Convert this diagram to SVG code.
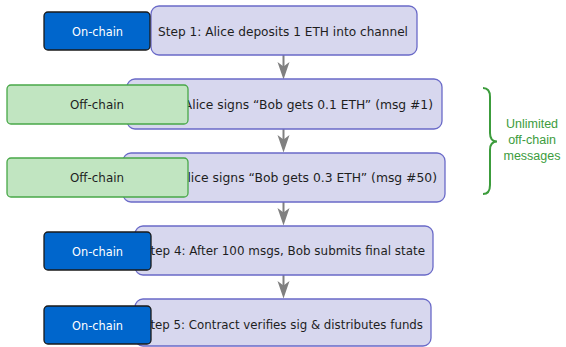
<svg xmlns="http://www.w3.org/2000/svg" width="566" height="347" viewBox="0 0 566 347">
  <style>
    .step { fill: #D7D7EE; stroke: #6A6AC8; stroke-width: 1.3; }
    .on { fill: #0066CC; stroke: #1A1A1A; stroke-width: 1.3; }
    .off { fill: #C1E5C1; stroke: #48A848; stroke-width: 1.3; }
    .t { font-family: "DejaVu Sans", "Liberation Sans", sans-serif; font-size: 13px; text-anchor: middle; }
    .st { fill: #1E1E1E; }
    .wt { fill: #FFFFFF; }
    .gt { fill: #3C9C3C; font-family: "Liberation Sans", Arial, sans-serif; font-size: 12.5px; }
    .conn line { stroke: #808080; stroke-width: 2; }
    .conn polygon { fill: #808080; }
  </style>

  <!-- connectors between steps -->
  <g id="connectors" class="conn">
    <line x1="283.5" y1="55" x2="283.5" y2="68"/>
    <polygon points="283.5,79.5 277.5,62 283.5,66.5 289.5,62"/>
    <line x1="283.5" y1="129" x2="283.5" y2="141"/>
    <polygon points="283.5,152.5 277.5,135 283.5,139.5 289.5,135"/>
    <line x1="283.5" y1="202" x2="283.5" y2="214"/>
    <polygon points="283.5,225.5 277.5,208 283.5,212.5 289.5,208"/>
    <line x1="283.5" y1="275" x2="283.5" y2="287"/>
    <polygon points="283.5,298.5 277.5,281 283.5,285.5 289.5,281"/>
  </g>

  <g id="step1">
    <rect class="step" x="151" y="6" width="266" height="49" rx="8"/>
    <text class="t st" x="283" y="35.5" textLength="250" lengthAdjust="spacingAndGlyphs">Step 1: Alice deposits 1 ETH into channel</text>
  </g>
  <g id="tag1">
    <rect class="on" x="44" y="12" width="106" height="38" rx="4"/>
    <text class="t wt" x="97.5" y="35.5" textLength="51" lengthAdjust="spacingAndGlyphs">On-chain</text>
  </g>

  <g id="step2">
    <rect class="step" x="127" y="79" width="315" height="50" rx="8"/>
    <text class="t st" x="284.5" y="109" textLength="297" lengthAdjust="spacingAndGlyphs">Step 2: Alice signs “Bob gets 0.1 ETH” (msg #1)</text>
  </g>
  <g id="tag2">
    <rect class="off" x="7" y="85" width="181" height="39" rx="4"/>
    <text class="t st" x="97" y="109" textLength="54" lengthAdjust="spacingAndGlyphs">Off-chain</text>
  </g>

  <g id="step3">
    <rect class="step" x="123" y="153" width="322" height="49" rx="8"/>
    <text class="t st" x="284" y="182" textLength="306" lengthAdjust="spacingAndGlyphs">Step 3: Alice signs “Bob gets 0.3 ETH” (msg #50)</text>
  </g>
  <g id="tag3">
    <rect class="off" x="7" y="158" width="181" height="39" rx="4"/>
    <text class="t st" x="97" y="182" textLength="54" lengthAdjust="spacingAndGlyphs">Off-chain</text>
  </g>

  <g id="step4">
    <rect class="step" x="135" y="226" width="298" height="49" rx="8"/>
    <text class="t st" x="284" y="255" textLength="282" lengthAdjust="spacingAndGlyphs">Step 4: After 100 msgs, Bob submits final state</text>
  </g>
  <g id="tag4">
    <rect class="on" x="44" y="232" width="107" height="38" rx="4"/>
    <text class="t wt" x="97.5" y="255.5" textLength="51" lengthAdjust="spacingAndGlyphs">On-chain</text>
  </g>

  <g id="step5">
    <rect class="step" x="135" y="299" width="296" height="47" rx="8"/>
    <text class="t st" x="283" y="329" textLength="280" lengthAdjust="spacingAndGlyphs">Step 5: Contract verifies sig &amp; distributes funds</text>
  </g>
  <g id="tag5">
    <rect class="on" x="44" y="306" width="107" height="38" rx="4"/>
    <text class="t wt" x="97.5" y="329.5" textLength="51" lengthAdjust="spacingAndGlyphs">On-chain</text>
  </g>

  <!-- brace grouping the off-chain steps -->
  <g id="brace">
    <path d="M483,88 Q490,88 490,97 L490,133 Q490,141.5 497,141.5 Q490,141.5 490,150 L490,185 Q490,194 483,194" fill="none" stroke="#3C9C3C" stroke-width="2"/>
    <text class="t gt" x="532" y="128">Unlimited</text>
    <text class="t gt" x="532" y="144">off-chain</text>
    <text class="t gt" x="532" y="160">messages</text>
  </g>
</svg>
